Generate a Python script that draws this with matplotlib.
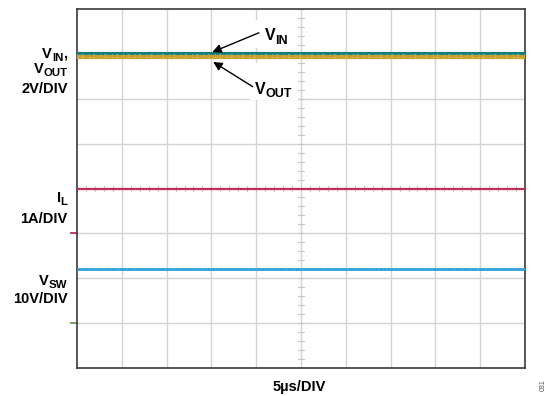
import matplotlib
matplotlib.use("Agg")
import matplotlib.pyplot as plt
import matplotlib.transforms as mtransforms
from matplotlib.patches import Rectangle

plt.rcParams["font.family"] = ["Liberation Sans", "DejaVu Sans"]
plt.rcParams["font.weight"] = "bold"

W, H = 547, 396

# scope setup: 10 horizontal divisions of 5 us, 8 vertical divisions
time_span_us = [0.0, 50.0]
us_per_div = 5.0
n_xdiv = 10
n_ydiv = 8

# channel levels (engineering units) with their scale and ground offset (div)
channels = ["VIN", "VOUT", "IL", "VSW"]
levels = [12.0, 11.85, 1.0, 12.0]
scale_per_div = [2.0, 2.0, 1.0, 10.0]
ground_div = [-3.0, -3.0, -1.0, -3.0]
colors = ["#137f7c", "#c9a130", "#bf2a55", "#2a9ed6"]
widths = [3.0, 3.0, 1.6, 2.0]

# ground markers drawn outside the left edge
marker_div = [-1.0, -3.0]
marker_colors = ["#b8335c", "#6b9a55"]

fig = plt.figure(figsize=(W / 100, H / 100), dpi=100)
ax = fig.add_axes([77 / W, 1 - 368 / H, 448 / W, 359 / H])

x_max = n_xdiv * us_per_div
ax.set_xlim(0, x_max)
ax.set_ylim(-n_ydiv / 2, n_ydiv / 2)

# graticule
for i in range(1, n_xdiv):
    ax.axvline(i * us_per_div, color="#d4d4d4", lw=1.0, zorder=1)
for j in range(1, n_ydiv):
    ax.axhline(-n_ydiv / 2 + j, color="#d4d4d4", lw=1.0, zorder=1)

# minor ticks on the centre cross
xc = x_max / 2
for k in range(n_ydiv * 5 + 1):
    y = -n_ydiv / 2 + k * 0.2
    ax.plot([xc - 0.35, xc + 0.35], [y, y], color="#c8c8c8", lw=0.8, zorder=1)
for k in range(n_xdiv * 5 + 1):
    x = k * us_per_div / 5
    ax.plot([x, x], [-0.045, 0.045], color="#c8c8c8", lw=0.8, zorder=1)

# white patches behind the callout labels
ax.add_patch(Rectangle((19.75, 3.13), 4.7, 0.62, fc="white", ec="none", zorder=2))
ax.add_patch(Rectangle((19.3, 1.97), 5.4, 0.83, fc="white", ec="none", zorder=2))

# traces
for name, lev, sc, g, c, w in zip(channels, levels, scale_per_div, ground_div, colors, widths):
    y = g + lev / sc
    ax.plot(time_span_us, [y, y], color=c, lw=w, solid_capstyle="butt", zorder=3)
    ax.plot(time_span_us, [y, y], color="white", lw=w * 0.25, alpha=0.35,
            ls=(0, (1, 3, 2, 5)), zorder=4)

# ground markers
trans = mtransforms.blended_transform_factory(ax.transAxes, ax.transData)
for yd, c in zip(marker_div, marker_colors):
    ax.plot([-0.014, 0.0], [yd, yd], color=c, lw=1.3, transform=trans, clip_on=False)

for side in ["left", "bottom", "top", "right"]:
    ax.spines[side].set_color("#3a3a3a")
    ax.spines[side].set_linewidth(1.2)
ax.set_xticks([])
ax.set_yticks([])

# arrows to the input and output traces
arrow = dict(arrowstyle="-|>", color="black", lw=1.0, mutation_scale=13, shrinkA=0, shrinkB=0)
ax.annotate("", xy=(15.1, 3.04), xytext=(20.3, 3.47), arrowprops=arrow, zorder=5)
ax.annotate("", xy=(15.2, 2.82), xytext=(19.6, 2.27), arrowprops=arrow, zorder=5)

renderer = fig.canvas.get_renderer()


def label(x_px, base_px, parts, ha="left", size=10.5):
    """Text with real subscripts; parts = [(text, is_sub), ...], pixel coords."""
    items = []
    for txt, sub in parts:
        t = fig.text(0, 0, txt, fontsize=size * 0.78 if sub else size, va="baseline")
        items.append((t, sub, t.get_window_extent(renderer).width))
    total = sum(w for _, _, w in items)
    x = x_px - total if ha == "right" else x_px
    for t, sub, w in items:
        y = base_px + (3 if sub else 0)
        t.set_position((x / W, 1 - y / H))
        x += w


label(67.5, 58, [("V", False), ("IN", True), (",", False)], ha="right")
label(67.5, 73, [("V", False), ("OUT", True)], ha="right")
label(67.5, 93, [("2V/DIV", False)], ha="right")
label(67.5, 202, [("I", False), ("L", True)], ha="right")
label(67.5, 223, [("1A/DIV", False)], ha="right")
label(67.5, 285, [("V", False), ("SW", True)], ha="right")
label(67.5, 303, [("10V/DIV", False)], ha="right")

label(265, 40.5, [("V", False), ("IN", True)], size=11.5)
label(255, 94, [("V", False), ("OUT", True)], size=11.5)

fig.text(299 / W, 1 - 387 / H, "5µs/DIV", ha="center", va="center", fontsize=10.5)
fig.text(543 / W, 1 - 385 / H, "031", ha="center", va="center", fontsize=5,
         rotation=90, color="#555555", fontweight="normal")

fig.savefig("out.png", dpi=100)
